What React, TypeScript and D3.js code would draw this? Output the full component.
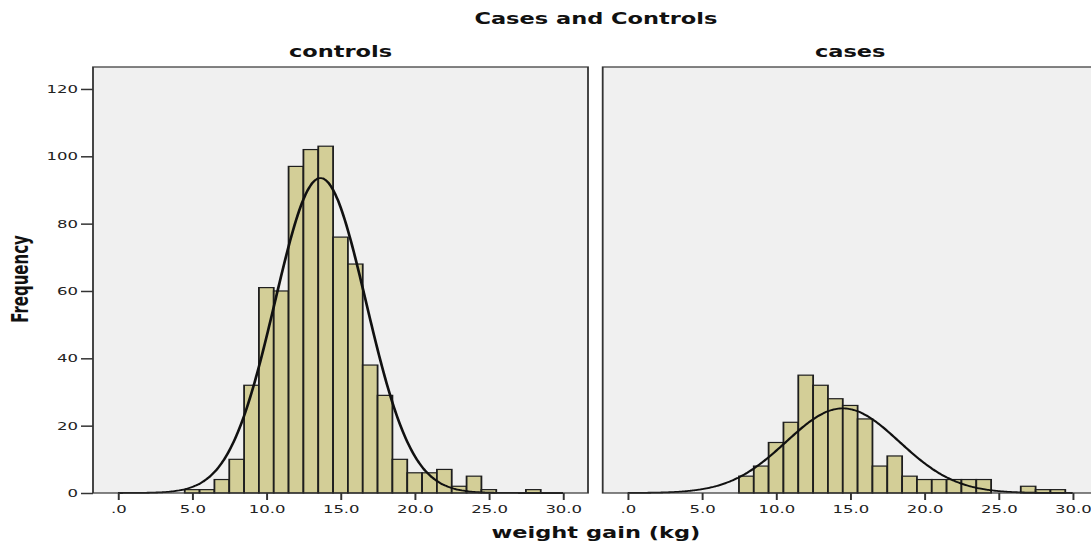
import React, { useEffect, useRef } from "react";
import * as d3 from "d3";

// weight gain histograms, 1 kg bins (bin centre -> frequency)
const controlsBins = [5, 6, 7, 8, 9, 10, 11, 12, 13, 14, 15, 16, 17, 18, 19, 20, 21, 22, 23, 24, 25, 26, 27, 28];
const controlsCounts = [1, 1, 4, 10, 32, 61, 60, 97, 102, 103, 76, 68, 38, 29, 10, 6, 6, 7, 2, 5, 1, 0, 0, 1];

const casesBins = [8, 9, 10, 11, 12, 13, 14, 15, 16, 17, 18, 19, 20, 21, 22, 23, 24, 25, 26, 27, 28, 29];
const casesCounts = [5, 8, 15, 21, 35, 32, 28, 26, 22, 8, 11, 5, 4, 4, 4, 4, 4, 0, 0, 2, 1, 1];

// fitted normal curves
const controlsMean = 13.65;
const controlsSd = 3.07;
const casesMean = 14.5;
const casesSd = 3.81;

const xTicks = [0, 5, 10, 15, 20, 25, 30];
const yTicks = [0, 20, 40, 60, 80, 100, 120];

// the original picture is stretched horizontally, so draw in a narrower space and scale x
const SX = 1.5;
const FONT = "'DejaVu Sans', sans-serif";
const PANEL_W = 330;
const PAD = 16.67;
const TOP = 67;
const BOTTOM = 493;
const Y_MAX = (BOTTOM - TOP) / 3.367;
const BIN_W = 1;

type PanelProps = {
  left: number;
  title: string;
  bins: number[];
  counts: number[];
  mean: number;
  sd: number;
  showYAxis?: boolean;
};

const fmt = (d: any) => (d === 0 ? ".0" : d3.format(".1f")(d));

const Panel = ({ left, title, bins, counts, mean, sd, showYAxis }: PanelProps) => {
  const xAxisRef = useRef<SVGGElement>(null);
  const yAxisRef = useRef<SVGGElement>(null);

  const x = d3.scaleLinear().domain([0, 30]).range([PAD, PANEL_W - PAD]);
  const y = d3.scaleLinear().domain([0, Y_MAX]).range([BOTTOM, TOP]);

  const n = d3.sum(counts);
  const pdf = (v: number) =>
    ((n * BIN_W) / (sd * Math.sqrt(2 * Math.PI))) * Math.exp(-((v - mean) ** 2) / (2 * sd * sd));
  const curvePts = d3.range(0, 30.001, 0.1);
  const line = d3
    .line<number>()
    .x((v) => x(v))
    .y((v) => y(pdf(v)))
    .curve(d3.curveBasis);

  useEffect(() => {
    const gx = d3.select(xAxisRef.current!);
    gx.call(d3.axisBottom(x).tickValues(xTicks).tickSize(7).tickPadding(5).tickFormat(fmt) as any);
    gx.select(".domain").remove();
    gx.attr("font-family", FONT).attr("font-size", 11);
    gx.selectAll("line").attr("stroke", "#333").attr("stroke-width", 1.3);
    gx.selectAll("text").attr("fill", "#222");

    if (showYAxis) {
      const gy = d3.select(yAxisRef.current!);
      gy.call(d3.axisLeft(y).tickValues(yTicks).tickSize(8).tickPadding(2) as any);
      gy.select(".domain").remove();
      gy.attr("font-family", FONT).attr("font-size", 11);
      gy.selectAll("line").attr("stroke", "#333").attr("stroke-width", 1.5);
      gy.selectAll("text").attr("fill", "#222");
    }
  }, []);

  return (
    <g transform={`translate(${left},0)`}>
      <rect x={0} y={TOP} width={PANEL_W} height={BOTTOM - TOP} fill="#f0f0f0" />
      {bins.map((b, i) =>
        counts[i] > 0 ? (
          <rect
            key={b}
            x={x(b - BIN_W / 2)}
            y={y(counts[i])}
            width={x(b + BIN_W / 2) - x(b - BIN_W / 2)}
            height={y(0) - y(counts[i])}
            fill="#d3ce97"
            stroke="#1e1e1e"
            strokeWidth={1.2}
          />
        ) : null
      )}
      <path d={line(curvePts) || ""} fill="none" stroke="#111" strokeWidth={1.8} />
      <rect
        x={0}
        y={TOP}
        width={PANEL_W}
        height={BOTTOM - TOP}
        fill="none"
        stroke="#333"
        strokeWidth={1.2}
      />
      <g ref={xAxisRef} transform={`translate(0,${BOTTOM})`} />
      {showYAxis && <g ref={yAxisRef} />}
      <text
        x={PANEL_W / 2}
        y={57}
        textAnchor="middle"
        fontFamily={FONT}
        fontWeight="bold"
        fontSize={15}
        fill="#111"
      >
        {title}
      </text>
    </g>
  );
};

export default function App() {
  return (
    <svg
      width={1091}
      height={544}
      style={{ position: "absolute", left: 0, top: 0, background: "#fff" }}
    >
      <g transform={`scale(${SX},1)`}>
        <text
          x={397.3}
          y={24}
          textAnchor="middle"
          fontFamily={FONT}
          fontWeight="bold"
          fontSize={15}
          fill="#111"
        >
          Cases and Controls
        </text>
        <Panel
          left={62}
          title="controls"
          bins={controlsBins}
          counts={controlsCounts}
          mean={controlsMean}
          sd={controlsSd}
          showYAxis
        />
        <Panel
          left={401.8}
          title="cases"
          bins={casesBins}
          counts={casesCounts}
          mean={casesMean}
          sd={casesSd}
        />
        <text
          transform="translate(18.5,279) rotate(-90)"
          textAnchor="middle"
          fontFamily={FONT}
          fontWeight="bold"
          fontSize={15}
          fill="#111"
        >
          Frequency
        </text>
        <text
          x={397.3}
          y={538}
          textAnchor="middle"
          fontFamily={FONT}
          fontWeight="bold"
          fontSize={15}
          fill="#111"
        >
          weight gain (kg)
        </text>
      </g>
    </svg>
  );
}
